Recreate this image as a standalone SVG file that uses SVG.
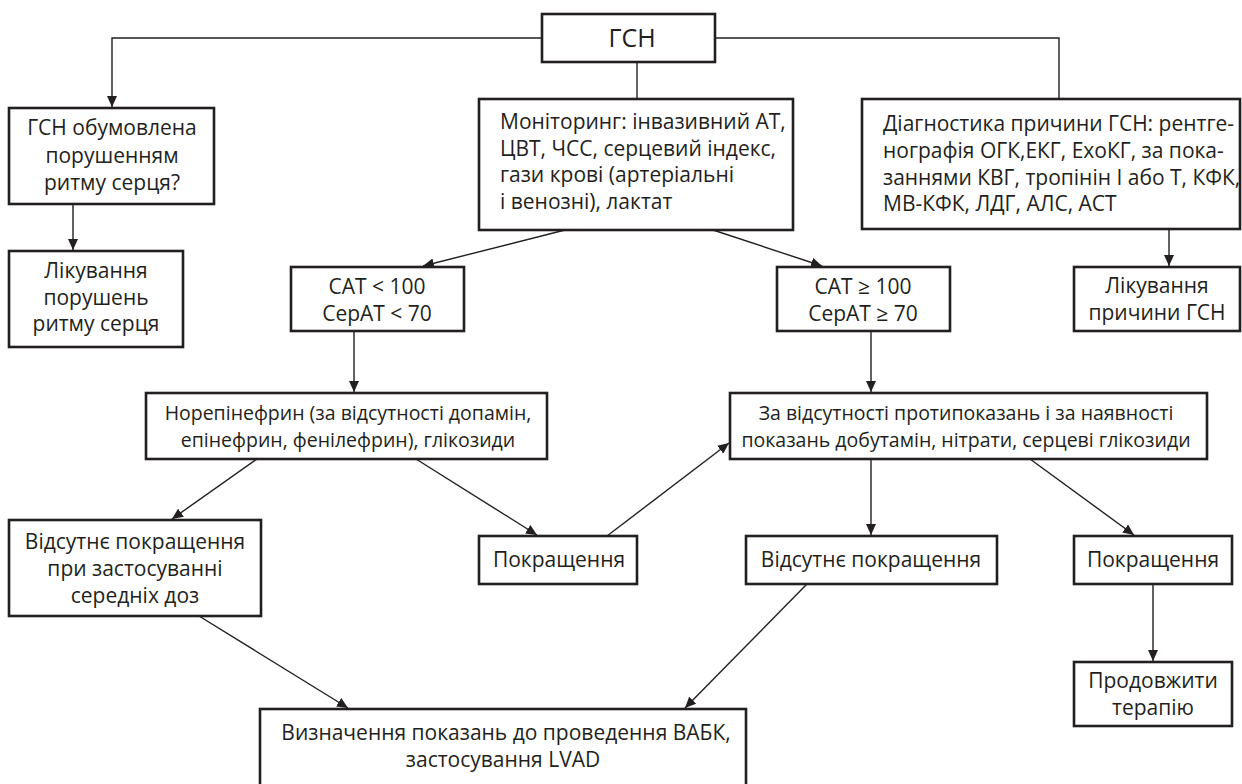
<svg xmlns="http://www.w3.org/2000/svg" width="1242" height="784" viewBox="0 0 1242 784">
<style>
.box{fill:#fff;stroke:#231f20;stroke-width:2.6}
.t{font-family:"Open Sans","Noto Sans",sans-serif;font-size:21px;fill:#231f20}
.s{font-size:19.5px}
.c{text-anchor:middle}
.ln{fill:none;stroke:#231f20;stroke-width:1.4}
</style>
<defs>
<marker id="ah" markerUnits="userSpaceOnUse" markerWidth="12" markerHeight="10" refX="11" refY="5" orient="auto">
<path d="M0,0 L11,5 L0,10 Z" fill="#231f20"/>
</marker>
</defs>
<rect width="1242" height="784" fill="#fff"/>
<g id="connectors">
<polyline class="ln" points="542,38 112,38 112,107" marker-end="url(#ah)"/>
<polyline class="ln" points="715,38 1059,38 1059,99"/>
<line class="ln" x1="637" y1="62" x2="637" y2="99"/>
<line class="ln" x1="73" y1="204" x2="73" y2="250" marker-end="url(#ah)"/>
<line class="ln" x1="565" y1="230" x2="423" y2="266" marker-end="url(#ah)"/>
<line class="ln" x1="713" y1="230" x2="822" y2="266" marker-end="url(#ah)"/>
<line class="ln" x1="1169" y1="229" x2="1169" y2="266" marker-end="url(#ah)"/>
<line class="ln" x1="354" y1="331" x2="354" y2="392" marker-end="url(#ah)"/>
<line class="ln" x1="871" y1="331" x2="871" y2="392" marker-end="url(#ah)"/>
<line class="ln" x1="257" y1="459" x2="172" y2="519" marker-end="url(#ah)"/>
<line class="ln" x1="416" y1="459" x2="537" y2="535" marker-end="url(#ah)"/>
<line class="ln" x1="607" y1="536" x2="729" y2="443" marker-end="url(#ah)"/>
<line class="ln" x1="871" y1="459" x2="871" y2="535" marker-end="url(#ah)"/>
<line class="ln" x1="1030" y1="459" x2="1134" y2="535" marker-end="url(#ah)"/>
<line class="ln" x1="1153" y1="584" x2="1153" y2="661" marker-end="url(#ah)"/>
<line class="ln" x1="199" y1="616" x2="348" y2="708" marker-end="url(#ah)"/>
<line class="ln" x1="807" y1="584" x2="685" y2="708" marker-end="url(#ah)"/>
</g>
<g id="n-gsn">
<rect class="box" x="542" y="14" width="173" height="48"/>
<text class="t c" x="632" y="47" style="font-size:25px">ГСН</text>
</g>
<g id="n-rhythm-q">
<rect class="box" x="9" y="108" width="205" height="96"/>
<text class="t c" x="112" y="135">ГСН обумовлена</text>
<text class="t c" x="112" y="163">порушенням</text>
<text class="t c" x="112" y="190">ритму серця?</text>
</g>
<g id="n-rhythm-tx">
<rect class="box" x="9" y="251" width="174" height="96"/>
<text class="t c" x="96" y="278">Лікування</text>
<text class="t c" x="96" y="305">порушень</text>
<text class="t c" x="96" y="331">ритму серця</text>
</g>
<g id="n-monitor">
<rect class="box" x="479" y="99" width="314" height="131"/>
<text class="t" x="500" y="129">Моніторинг: інвазивний АТ,</text>
<text class="t" x="500" y="156">ЦВТ, ЧСС, серцевий індекс,</text>
<text class="t" x="500" y="182">гази крові (артеріальні</text>
<text class="t" x="500" y="209">і венозні), лактат</text>
</g>
<g id="n-diag">
<rect class="box" x="862" y="99" width="378" height="130"/>
<text class="t" x="883" y="131">Діагностика причини ГСН: рентге-</text>
<text class="t" x="883" y="158">нографія ОГК,ЕКГ, ЕхоКГ, за пока-</text>
<text class="t" x="883" y="185">заннями КВГ, тропінін І або Т, КФК,</text>
<text class="t" x="883" y="211">МВ-КФК, ЛДГ, АЛС, АСТ</text>
</g>
<g id="n-cause-tx">
<rect class="box" x="1074" y="267" width="166" height="64"/>
<text class="t c" x="1157" y="293">Лікування</text>
<text class="t c" x="1157" y="320">причини ГСН</text>
</g>
<g id="n-sat-low">
<rect class="box" x="291" y="267" width="173" height="64"/>
<text class="t c" x="377" y="294">САТ &lt; 100</text>
<text class="t c" x="377" y="321">СерАТ &lt; 70</text>
</g>
<g id="n-sat-high">
<rect class="box" x="777" y="267" width="173" height="64"/>
<text class="t c" x="863" y="294">САТ ≥ 100</text>
<text class="t c" x="863" y="321">СерАТ ≥ 70</text>
</g>
<g id="n-norepi">
<rect class="box" x="146" y="393" width="401" height="66"/>
<text class="t s c" x="348" y="420">Норепінефрин (за відсутності допамін,</text>
<text class="t s c" x="348" y="447">епінефрин, фенілефрин), глікозиди</text>
</g>
<g id="n-dobut">
<rect class="box" x="730" y="393" width="477" height="66"/>
<text class="t s c" x="966" y="420">За відсутності протипоказань і за наявності</text>
<text class="t s c" x="966" y="447">показань добутамін, нітрати, серцеві глікозиди</text>
</g>
<g id="n-noimp-left">
<rect class="box" x="9" y="520" width="252" height="96"/>
<text class="t c" x="135" y="549">Відсутнє покращення</text>
<text class="t c" x="135" y="576">при застосуванні</text>
<text class="t c" x="135" y="603">середніх доз</text>
</g>
<g id="n-imp-mid">
<rect class="box" x="479" y="536" width="158" height="48"/>
<text class="t c" x="559" y="567">Покращення</text>
</g>
<g id="n-noimp-right">
<rect class="box" x="746" y="536" width="251" height="48"/>
<text class="t c" x="871" y="567">Відсутнє покращення</text>
</g>
<g id="n-imp-right">
<rect class="box" x="1074" y="536" width="158" height="48"/>
<text class="t c" x="1153" y="567">Покращення</text>
</g>
<g id="n-continue">
<rect class="box" x="1074" y="662" width="158" height="64"/>
<text class="t c" x="1153" y="688">Продовжити</text>
<text class="t c" x="1153" y="715">терапію</text>
</g>
<g id="n-vabk">
<rect class="box" x="260" y="709" width="486" height="90"/>
<text class="t c" x="506" y="740">Визначення показань до проведення ВАБК,</text>
<text class="t c" x="503" y="767">застосування LVAD</text>
</g>
</svg>
